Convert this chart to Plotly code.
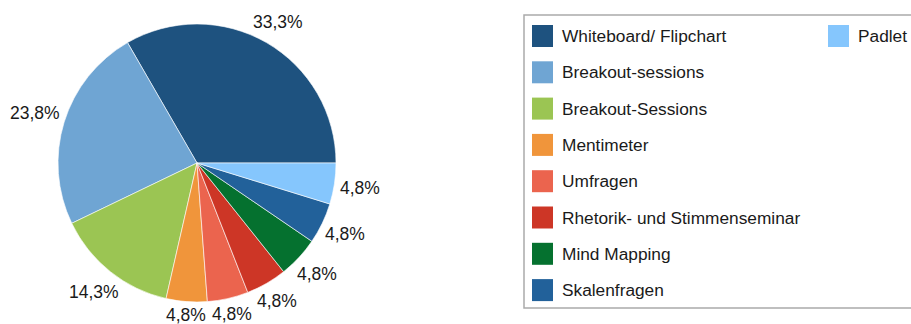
import math
import plotly.graph_objects as go

labels = ["Whiteboard/ Flipchart", "Breakout-sessions", "Breakout-Sessions", "Mentimeter",
          "Umfragen", "Rhetorik- und Stimmenseminar", "Mind Mapping", "Skalenfragen", "Padlet"]
counts = [7, 5, 3, 1, 1, 1, 1, 1, 1]
colors = ["#1e527f", "#6fa5d3", "#9bc553", "#f0953b", "#eb644e", "#cd3626", "#05712f", "#22619a", "#85c6fd"]

FONT = "Liberation Sans, Arial, Helvetica, sans-serif"
W, H = 911, 324
CX, CY, R = 197, 163, 139   # pie centre and radius in pixels

fig = go.Figure()
fig.add_trace(go.Pie(
    labels=labels, values=counts, sort=False, direction="counterclockwise", rotation=-30,
    marker=dict(colors=colors, line=dict(color="white", width=0.6)),
    textinfo="none", showlegend=False, hoverinfo="label+percent",
    domain=dict(x=[(CX - R) / W, (CX + R) / W], y=[1 - (CY + R) / H, 1 - (CY - R) / H]),
))

annotations = []
# percentage labels outside the slices (positions derived from the data)
total = sum(counts)
cum = 0.0
for c in counts:
    mid = 2 * math.pi * (cum + c / 2) / total   # counterclockwise from 3 o'clock
    cum += c
    txt = f"{100 * c / total:.1f}".replace(".", ",") + "%"
    w, h = len(txt) * 9.8, 14
    cs, sn = math.cos(mid), math.sin(mid)
    d = R + 5 + (w / 2) * abs(cs) + (h / 2) * abs(sn)
    px, py = CX + d * cs, CY - d * sn
    annotations.append(dict(xref="paper", yref="paper", x=px / W, y=1 - py / H, text=txt,
                            showarrow=False, xanchor="center", yanchor="middle",
                            font=dict(family=FONT, size=17.5, color="#1a1a1a")))

# legend box (manual, two columns)
shapes = [dict(type="rect", xref="paper", yref="paper", x0=524 / W, x1=940 / W,
               y0=1 - 308 / H, y1=1 - 15 / H, line=dict(color="#aaaaaa", width=1.5),
               fillcolor="rgba(0,0,0,0)")]
per_col = 8
col_x = [532, 828]
row0, pitch, sq = 36, 36.3, 22
for i, (lab, col) in enumerate(zip(labels, colors)):
    ci, r = divmod(i, per_col)
    x0 = col_x[ci]
    yc = row0 + r * pitch
    shapes.append(dict(type="rect", xref="paper", yref="paper",
                       x0=x0 / W, x1=(x0 + 21) / W, y0=1 - (yc + sq / 2) / H, y1=1 - (yc - sq / 2) / H,
                       fillcolor=col, line=dict(color=col, width=0)))
    annotations.append(dict(xref="paper", yref="paper", x=(x0 + 28) / W, y=1 - yc / H,
                            text=lab, showarrow=False, xanchor="left", yanchor="middle",
                            font=dict(family=FONT, size=17.3, color="#1a1a1a")))

fig.update_layout(width=W, height=H, margin=dict(l=0, r=0, t=0, b=0, autoexpand=False),
                  paper_bgcolor="white", plot_bgcolor="white", separators=",.",
                  shapes=shapes, annotations=annotations)
fig.write_html("out.html")
